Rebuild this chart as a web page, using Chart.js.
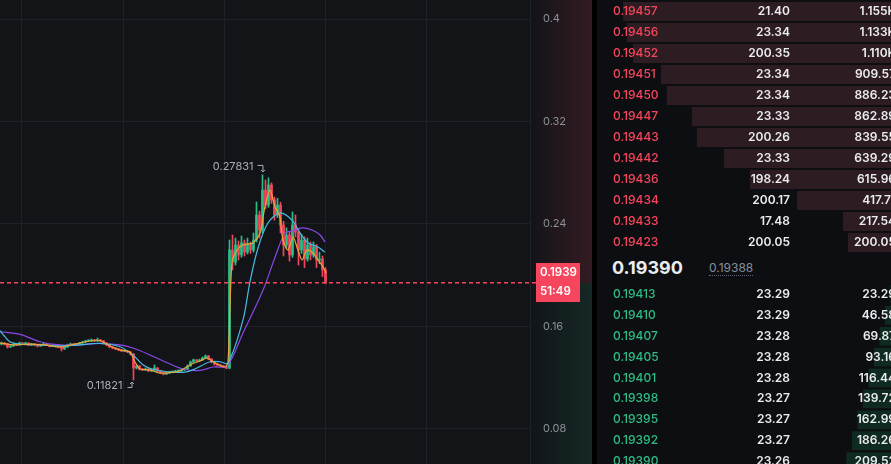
<!DOCTYPE html>
<html>
<head>
<meta charset="utf-8">
<script src="https://cdn.jsdelivr.net/npm/chart.js@4.4.1/dist/chart.umd.min.js"></script>
<style>
html,body{margin:0;padding:0;background:#000;width:891px;height:464px;overflow:hidden;font-family:Inter,"Noto Sans",sans-serif;}
#mainCanvas{position:absolute;left:0;top:0;}
#sep{position:absolute;left:592px;top:0;width:5px;height:464px;background:#000;}
#book{position:absolute;left:597px;top:0;width:294px;height:464px;background:#0d0e12;overflow:hidden;}
#asks{position:absolute;left:0;top:1px;}
#bids{position:absolute;left:0;top:284px;}
#midPrice{position:absolute;left:15px;top:257px;font-size:18px;line-height:22px;font-weight:700;color:#eaecef;}
#markPrice{position:absolute;left:112px;top:261px;font-size:12px;line-height:14px;color:#848e9c;border-bottom:1px dotted #5e6673;}
</style>
</head>
<body>
<canvas id="mainCanvas" width="592" height="464"></canvas>
<div id="sep"></div>
<div id="book">
  <canvas id="asks" width="299" height="252"></canvas>
  <div id="midPrice">0.19390</div>
  <div id="markPrice">0.19388</div>
  <canvas id="bids" width="299" height="188"></canvas>
</div>
<script>
// ---------- candle data (index = candle number) ----------
const openP = [
0.1463,0.1471,0.1463,0.1440,0.1448,0.1463,0.1456,0.1471,0.1463,0.1471,
0.1456,0.1463,0.1456,0.1448,0.1456,0.1463,0.1456,0.1448,0.1456,0.1448,
0.1440,0.1425,0.1440,0.1456,0.1463,0.1456,0.1463,0.1471,0.1479,0.1487,
0.1487,0.1495,0.1487,0.1495,0.1487,0.1471,0.1456,0.1440,0.1432,0.1425,
0.1417,0.1409,0.1409,0.1401,0.1385,0.1276,0.1292,0.1268,0.1261,0.1268,
0.1253,0.1261,0.1276,0.1253,0.1237,0.1229,0.1237,0.1245,0.1245,0.1253,
0.1253,0.1261,0.1268,0.1292,0.1323,0.1339,0.1331,0.1339,0.1354,0.1370,
0.1346,0.1323,0.1307,0.1299,0.1292,0.1284,0.1276,0.2197,0.2103,0.2236,
0.2158,0.2252,0.2181,0.2244,0.2197,0.2275,0.2470,0.2353,0.2665,0.2548,
0.2704,0.2587,0.2470,0.2548,0.2392,0.2236,0.2314,0.2158,0.2392,0.2337,
0.2197,0.2275,0.2127,0.2236,0.2158,0.2220,0.2119,0.2127,0.2041];
const highP = [
0.1479,0.1476,0.1468,0.1456,0.1471,0.1468,0.1479,0.1476,0.1478,0.1474,
0.1469,0.1466,0.1460,0.1462,0.1470,0.1467,0.1460,0.1462,0.1459,0.1452,
0.1445,0.1446,0.1462,0.1470,0.1467,0.1469,0.1477,0.1485,0.1493,0.1495,
0.1503,0.1499,0.1510,0.1499,0.1491,0.1475,0.1460,0.1444,0.1436,0.1429,
0.1421,0.1415,0.1413,0.1405,0.1390,0.1300,0.1296,0.1272,0.1276,0.1272,
0.1268,0.1300,0.1280,0.1257,0.1241,0.1243,0.1251,0.1250,0.1259,0.1258,
0.1267,0.1274,0.1300,0.1331,0.1346,0.1343,0.1346,0.1362,0.1378,0.1374,
0.1350,0.1327,0.1311,0.1303,0.1296,0.1290,0.2275,0.2314,0.2290,0.2267,
0.2306,0.2275,0.2290,0.2260,0.2330,0.2572,0.2500,0.27831,0.2743,0.2760,
0.2720,0.2610,0.2600,0.2570,0.2420,0.2370,0.2340,0.2494,0.2470,0.2360,
0.2320,0.2300,0.2290,0.2260,0.2260,0.2240,0.2180,0.2150,0.2060];
const lowP = [
0.1456,0.1456,0.1432,0.1436,0.1444,0.1450,0.1452,0.1458,0.1460,0.1450,
0.1452,0.1450,0.1440,0.1444,0.1452,0.1450,0.1440,0.1444,0.1442,0.1434,
0.1409,0.1420,0.1436,0.1452,0.1450,0.1452,0.1459,0.1467,0.1475,0.1481,
0.1483,0.1481,0.1483,0.1481,0.1465,0.1450,0.1434,0.1426,0.1419,0.1411,
0.1403,0.1403,0.1395,0.1378,0.11821,0.1268,0.1260,0.1255,0.1256,0.1247,
0.1249,0.1257,0.1247,0.1231,0.1222,0.1225,0.1233,0.1238,0.1241,0.1246,
0.1249,0.1257,0.1264,0.1288,0.1318,0.1325,0.1327,0.1335,0.1350,0.1340,
0.1316,0.1300,0.1293,0.1286,0.1278,0.1270,0.1270,0.2041,0.2080,0.2119,
0.2140,0.2150,0.2166,0.2170,0.2180,0.2260,0.2290,0.2330,0.2520,0.2530,
0.2560,0.2430,0.2450,0.2330,0.2150,0.2210,0.2110,0.2140,0.2300,0.2080,
0.2170,0.2060,0.2110,0.2120,0.2140,0.2060,0.2090,0.1990,0.1935];
const closeP = [
0.1471,0.1463,0.1440,0.1448,0.1463,0.1456,0.1471,0.1463,0.1471,0.1456,
0.1463,0.1456,0.1448,0.1456,0.1463,0.1456,0.1448,0.1456,0.1448,0.1440,
0.1425,0.1440,0.1456,0.1463,0.1456,0.1463,0.1471,0.1479,0.1487,0.1487,
0.1495,0.1487,0.1495,0.1487,0.1471,0.1456,0.1440,0.1432,0.1425,0.1417,
0.1409,0.1409,0.1401,0.1385,0.1276,0.1292,0.1268,0.1261,0.1268,0.1253,
0.1261,0.1276,0.1253,0.1237,0.1229,0.1237,0.1245,0.1245,0.1253,0.1253,
0.1261,0.1268,0.1292,0.1323,0.1339,0.1331,0.1339,0.1354,0.1370,0.1346,
0.1323,0.1307,0.1299,0.1292,0.1284,0.1276,0.2197,0.2103,0.2236,0.2158,
0.2252,0.2181,0.2244,0.2197,0.2275,0.2470,0.2353,0.2665,0.2548,0.2704,
0.2587,0.2470,0.2548,0.2392,0.2236,0.2314,0.2158,0.2392,0.2337,0.2197,
0.2275,0.2127,0.2236,0.2158,0.2220,0.2119,0.2127,0.2041,0.1939];

// ---------- moving averages (x = candle index) ----------
const maFastIdx = [-0.5,4.5,9.5,14.5,19.5,24.5,29.5,32.8,36.2,39.5,42.8,44.5,46.2,49.5,52.8,56.2,59.5,62.8,66.2,68.5,71.2,74.5,75.5,76.8,78.5,80.5,83.8,86.2,87.8,89.5,91.2,92.8,93.8,95.5,97.2,98.8,100.2,101.8,103.8,105.5,107.2,108.2];
const maFastVal = [0.1471,0.1456,0.1463,0.1456,0.1440,0.1463,0.1487,0.1491,0.1448,0.1417,0.1401,0.1323,0.1268,0.1261,0.1237,0.1241,0.1253,0.1300,0.1331,0.1354,0.1315,0.1284,0.1323,0.2096,0.2197,0.2236,0.2252,0.2330,0.2533,0.2665,0.2533,0.2455,0.2275,0.2197,0.2299,0.2197,0.2119,0.2197,0.2174,0.2119,0.2064,0.2018];
const maMidIdx = [-0.5,2.8,6.2,12.8,19.5,26.2,32.8,39.5,43.8,47.2,50.5,55.2,60.5,63.8,69.5,72.8,75.5,80.5,82.8,85.5,88.8,92.8,96.8,99.5,102.2,105.5,107.8];
const maMidVal = [0.1567,0.1481,0.1463,0.1456,0.1448,0.1456,0.1469,0.1442,0.1378,0.1300,0.1266,0.1247,0.1242,0.1261,0.1325,0.1325,0.1313,0.1651,0.1947,0.2213,0.2408,0.2486,0.2431,0.2330,0.2252,0.2220,0.2181];
const maSlowIdx = [-0.5,6.2,12.8,19.5,26.2,32.8,39.5,43.8,49.5,55.2,60.5,66.2,70.5,75.2,80.5,87.2,91.2,94.5,96.8,100.2,103.5,106.2,107.8];
const maSlowVal = [0.1559,0.1539,0.1481,0.1456,0.1456,0.1469,0.1456,0.1432,0.1378,0.1317,0.1268,0.1257,0.1284,0.1292,0.1549,0.1885,0.2142,0.2330,0.2345,0.2369,0.2353,0.2314,0.2260];

// ---------- axes ----------
const priceTicks = [0.08, 0.16, 0.24, 0.32, 0.4];
const priceTickLabels = ['0.08', '0.16', '0.24', '0.32', '0.4'];
const timeGridIdx = [6.83, 40.58, 74.33, 108.08, 141.83];
const countdownText = '51:49';

// ---------- order book ----------
const askPrices  = ['0.19457','0.19456','0.19452','0.19451','0.19450','0.19447','0.19443','0.19442','0.19436','0.19434','0.19433','0.19423'];
const askAmounts = [21.40, 23.34, 200.35, 23.34, 23.34, 23.33, 200.26, 23.33, 198.24, 200.17, 17.48, 200.05];
const askTotals  = [1155, 1133, 1110, 909.57, 886.23, 862.89, 839.55, 639.29, 615.96, 417.71, 217.54, 200.05];
const askDepth   = [1153, 1137, 1111, 993, 968, 862, 841, 727, 617, 418, 224, 203];
const bidPrices  = ['0.19413','0.19410','0.19407','0.19405','0.19401','0.19398','0.19395','0.19392','0.19390'];
const bidAmounts = [23.29, 23.29, 23.28, 23.28, 23.28, 23.27, 23.27, 23.27, 23.26];
const bidTotals  = [23.29, 46.58, 69.87, 93.16, 116.44, 139.72, 162.99, 186.26, 209.52];

const GREEN = '#2ebd85', RED = '#f6465d';
const FONT = 'Inter, "Noto Sans", sans-serif';

const pts = (xs, ys) => xs.map((x, i) => ({x: x, y: ys[i]}));
const candleColor = ctx => closeP[ctx.dataIndex] >= openP[ctx.dataIndex] ? GREEN : RED;

const mainDecor = {
  id: 'mainDecor',
  beforeDraw(chart) {
    const {ctx, chartArea: a, width, height} = chart;
    const py = chart.scales.y.getPixelForValue(closeP[closeP.length - 1]);
    ctx.save();
    ctx.fillStyle = '#121418';
    ctx.fillRect(0, 0, width, height);
    let g = ctx.createLinearGradient(a.right, 0, width, 0);
    g.addColorStop(0, 'rgba(246,70,93,0)');
    g.addColorStop(1, 'rgba(246,70,93,0.15)');
    ctx.fillStyle = g;
    ctx.fillRect(a.right, 0, width - a.right, py);
    g = ctx.createLinearGradient(a.right, 0, width, 0);
    g.addColorStop(0, 'rgba(46,189,133,0)');
    g.addColorStop(1, 'rgba(46,189,133,0.12)');
    ctx.fillStyle = g;
    ctx.fillRect(a.right, py, width - a.right, height - py);
    ctx.restore();
  },
  afterDatasetsDraw(chart) {
    const {ctx} = chart;
    const xs = chart.scales.x, ys = chart.scales.y;
    let hi = 0, lo = 0;
    highP.forEach((v, i) => { if (v > highP[hi]) hi = i; });
    lowP.forEach((v, i) => { if (v < lowP[lo]) lo = i; });
    ctx.save();
    ctx.font = '11px ' + FONT;
    ctx.fillStyle = '#a9afb7';
    ctx.strokeStyle = '#a9afb7';
    ctx.lineWidth = 1;
    ctx.textBaseline = 'middle';
    ctx.textAlign = 'right';
    let px = xs.getPixelForValue(hi), py = ys.getPixelForValue(highP[hi]);
    ctx.fillText(highP[hi].toFixed(5), px - 9, py - 8);
    ctx.beginPath();
    ctx.moveTo(px - 5, py - 9.5); ctx.lineTo(px + 0.5, py - 9.5); ctx.lineTo(px + 0.5, py - 3);
    ctx.moveTo(px - 1.5, py - 5); ctx.lineTo(px + 0.5, py - 3); ctx.lineTo(px + 2.5, py - 5);
    ctx.stroke();
    px = xs.getPixelForValue(lo); py = ys.getPixelForValue(lowP[lo]);
    ctx.fillText(lowP[lo].toFixed(5), px - 11, py + 6);
    ctx.beginPath();
    ctx.moveTo(px - 6, py + 7.5); ctx.lineTo(px - 1.5, py + 7.5); ctx.lineTo(px - 1.5, py + 2);
    ctx.moveTo(px - 3.5, py + 4); ctx.lineTo(px - 1.5, py + 2); ctx.lineTo(px + 0.5, py + 4);
    ctx.stroke();
    ctx.restore();
  },
  afterDraw(chart) {
    const {ctx, chartArea: a} = chart;
    const last = closeP[closeP.length - 1];
    const py = Math.round(chart.scales.y.getPixelForValue(last));
    ctx.save();
    ctx.globalAlpha = 1;
    ctx.fillStyle = RED;
    for (let x = 0; x < a.right + 6; x += 7) {
      ctx.fillRect(x, py - 1, 4, 1.5);
    }
    ctx.fillRect(a.right + 6, py - 20, 44, 39);
    ctx.fillStyle = '#ffffff';
    ctx.font = '600 11.5px ' + FONT;
    ctx.textAlign = 'left';
    ctx.textBaseline = 'middle';
    ctx.fillText(last.toFixed(4), a.right + 10, py - 10);
    ctx.fillText(countdownText, a.right + 10, py + 9);
    ctx.restore();
  }
};

new Chart(document.getElementById('mainCanvas'), {
  data: {
    datasets: [
      {type: 'line', data: pts(maFastIdx, maFastVal), borderColor: '#eaa53a', borderWidth: 1.2, pointRadius: 0, pointHoverRadius: 0, tension: 0.25, order: 0},
      {type: 'line', data: pts(maMidIdx, maMidVal), borderColor: '#47bde6', borderWidth: 1.2, pointRadius: 0, pointHoverRadius: 0, tension: 0.3, order: 0},
      {type: 'line', data: pts(maSlowIdx, maSlowVal), borderColor: '#8a48e8', borderWidth: 1.2, pointRadius: 0, pointHoverRadius: 0, tension: 0.3, order: 0},
      {type: 'bar', data: closeP.map((c, i) => ({x: i, y: [openP[i], c]})), backgroundColor: candleColor, barThickness: 2, minBarLength: 1, grouped: false, order: 1},
      {type: 'bar', data: lowP.map((l, i) => ({x: i, y: [l, highP[i]]})), backgroundColor: candleColor, barThickness: 1, grouped: false, order: 2}
    ]
  },
  options: {
    animation: false,
    responsive: false,
    layout: {padding: 0, autoPadding: false},
    plugins: {legend: {display: false}, tooltip: {enabled: false}},
    scales: {
      x: {
        type: 'linear', min: -0.5, max: 176.17, offset: false,
        grid: {color: '#1e2126', drawTicks: false, offset: false},
        border: {display: false},
        ticks: {display: false},
        afterBuildTicks: s => { s.ticks = timeGridIdx.map(v => ({value: v})); },
        afterFit: s => { s.height = 0; s.paddingLeft = 0; s.paddingRight = 0; s.paddingTop = 0; s.paddingBottom = 0; }
      },
      y: {
        type: 'linear', position: 'right', min: 0.05268, max: 0.41483,
        grid: {color: '#1e2126', drawTicks: false},
        border: {color: '#1e2126'},
        ticks: {color: '#8b9099', font: {family: FONT, size: 11}, padding: 13,
          callback: v => { const k = priceTicks.indexOf(v); return k >= 0 ? priceTickLabels[k] : ''; }},
        afterBuildTicks: s => { s.ticks = priceTicks.map(v => ({value: v})); },
        afterFit: s => { s.width = 62; s.paddingTop = 0; s.paddingBottom = 0; s.paddingLeft = 0; s.paddingRight = 0; }
      }
    }
  },
  plugins: [mainDecor]
});

// ---------- order book charts ----------
const fmtTotal = v => v >= 1000 ? (v / 1000).toFixed(3) + 'K' : v.toFixed(2);
function bookText(prices, amounts, totals, priceColor) {
  return {
    id: 'bookText',
    afterDatasetsDraw(chart) {
      const {ctx, width} = chart;
      const ys = chart.scales.y;
      ctx.save();
      ctx.textBaseline = 'middle';
      prices.forEach((p, i) => {
        const y = ys.getPixelForValue(i);
        ctx.font = '500 12px ' + FONT;
        ctx.fillStyle = priceColor;
        ctx.textAlign = 'left';
        ctx.fillText(p, 16, y);
        ctx.font = '600 12px ' + FONT;
        ctx.fillStyle = '#eaecef';
        ctx.textAlign = 'right';
        ctx.fillText(amounts[i].toFixed(2), 193, y);
        ctx.fillText(fmtTotal(totals[i]), width, y);
      });
      ctx.restore();
    }
  };
}
function bookChart(id, prices, amounts, totals, depth, priceColor, barColor) {
  new Chart(document.getElementById(id), {
    type: 'bar',
    data: {labels: prices, datasets: [{data: depth, backgroundColor: barColor, barPercentage: 0.9, categoryPercentage: 1, borderWidth: 0}]},
    options: {
      indexAxis: 'y', animation: false, responsive: false, layout: {padding: 0, autoPadding: false},
      plugins: {legend: {display: false}, tooltip: {enabled: false}},
      scales: {
        x: {display: false, reverse: true, min: 0, max: 1263},
        y: {display: false}
      }
    },
    plugins: [bookText(prices, amounts, totals, priceColor)]
  });
}
bookChart('asks', askPrices, askAmounts, askTotals, askDepth, RED, '#2d1c22');
bookChart('bids', bidPrices, bidAmounts, bidTotals, bidTotals, GREEN, '#0f2a21');
</script>
</body>
</html>
